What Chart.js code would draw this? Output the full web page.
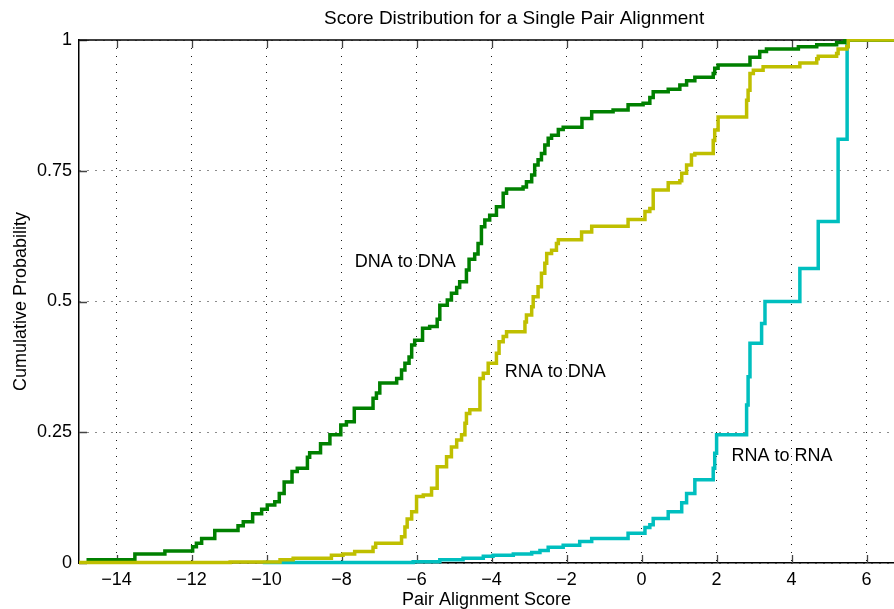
<!DOCTYPE html>
<html>
<head>
<meta charset="utf-8">
<title>Score Distribution for a Single Pair Alignment</title>
<script src="https://cdn.jsdelivr.net/npm/chart.js@4.4.1/dist/chart.umd.min.js"></script>
<style>
  html, body { margin: 0; padding: 0; background: #fff; }
  #chart { display: block; }
</style>
</head>
<body>
<canvas id="chart" width="894" height="609"></canvas>
<script>
// empirical CDFs of the pair alignment score, one stair per comparison
const dnaX = [-14.80, -13.51, -12.71, -11.97, -11.87, -11.73, -11.38, -10.76, -10.62, -10.37,
  -10.13, -9.98, -9.78, -9.66, -9.53, -9.32, -9.18, -8.91, -8.85, -8.56,
  -8.31, -8.02, -7.87, -7.66, -7.16, -7.07, -6.98, -6.53, -6.40, -6.31,
  -6.20, -6.13, -6.05, -5.84, -5.65, -5.45, -5.38, -5.18, -5.07, -4.93,
  -4.85, -4.67, -4.60, -4.45, -4.36, -4.27, -4.18, -4.05, -3.87, -3.69,
  -3.60, -3.16, -3.07, -2.93, -2.85, -2.76, -2.67, -2.58, -2.49, -2.40,
  -2.22, -2.09, -1.59, -1.33, -0.76, -0.36, 0.04, 0.22, 0.31, 0.71,
  1.02, 1.20, 1.42, 1.91, 1.95, 2.04, 2.89, 3.15, 3.33, 4.18,
  4.67, 5.20, 5.42, 6.80];
const dnaP = [0.006, 0.017, 0.023, 0.031, 0.038, 0.047, 0.062, 0.071, 0.079, 0.094,
  0.103, 0.111, 0.117, 0.133, 0.155, 0.175, 0.181, 0.202, 0.211, 0.228,
  0.245, 0.264, 0.270, 0.296, 0.315, 0.325, 0.344, 0.353, 0.369, 0.382,
  0.394, 0.417, 0.426, 0.449, 0.452, 0.466, 0.493, 0.503, 0.516, 0.527,
  0.538, 0.560, 0.581, 0.591, 0.611, 0.643, 0.656, 0.665, 0.681, 0.707,
  0.715, 0.719, 0.729, 0.742, 0.761, 0.771, 0.783, 0.799, 0.812, 0.818,
  0.829, 0.833, 0.850, 0.863, 0.866, 0.876, 0.879, 0.890, 0.901, 0.906,
  0.914, 0.922, 0.929, 0.936, 0.946, 0.952, 0.967, 0.978, 0.983, 0.987,
  0.991, 0.995, 1, 1];

const rnaDnaX = [-15.4, -10.97, -9.64, -9.29, -8.27, -7.96, -7.65, -7.16, -7.09, -6.40,
  -6.31, -6.25, -6.13, -6.00, -5.82, -5.60, -5.45, -5.20, -5.07, -4.93,
  -4.80, -4.71, -4.67, -4.58, -4.31, -4.22, -4.09, -3.87, -3.80, -3.69,
  -3.60, -3.11, -3.07, -2.93, -2.89, -2.76, -2.67, -2.58, -2.53, -2.40,
  -2.27, -2.22, -1.60, -1.33, -0.36, 0.09, 0.22, 0.31, 0.71, 1.02,
  1.07, 1.20, 1.33, 1.42, 1.91, 1.95, 2.04, 2.80, 2.84, 2.89,
  2.98, 3.24, 4.22, 4.67, 4.71, 5.20, 5.24, 5.47, 5.51, 6.80];
const rnaDnaP = [0.001, 0.002, 0.006, 0.009, 0.015, 0.017, 0.022, 0.030, 0.038, 0.050,
  0.069, 0.084, 0.098, 0.127, 0.130, 0.143, 0.184, 0.203, 0.222, 0.235,
  0.245, 0.267, 0.286, 0.293, 0.353, 0.363, 0.382, 0.401, 0.423, 0.433,
  0.442, 0.461, 0.474, 0.490, 0.509, 0.528, 0.554, 0.573, 0.592, 0.598,
  0.611, 0.618, 0.633, 0.644, 0.657, 0.672, 0.678, 0.713, 0.727, 0.731,
  0.745, 0.761, 0.780, 0.783, 0.808, 0.828, 0.853, 0.885, 0.904, 0.936,
  0.942, 0.949, 0.956, 0.964, 0.969, 0.974, 0.983, 0.987, 1, 1];

const rnaRnaX = [-10.1, -6.09, -5.38, -4.76, -4.22, -3.96, -3.42, -2.93, -2.71, -2.49,
  -2.09, -1.65, -1.33, -0.36, 0.09, 0.22, 0.31, 0.71, 1.07, 1.20,
  1.42, 1.91, 1.95, 2.00, 2.80, 2.84, 2.89, 3.20, 3.29, 4.22,
  4.71, 5.24, 5.48, 6.80];
const rnaRnaP = [0.001, 0.0025, 0.006, 0.009, 0.013, 0.015, 0.017, 0.020, 0.024, 0.030,
  0.034, 0.041, 0.047, 0.057, 0.068, 0.073, 0.085, 0.098, 0.115, 0.133,
  0.159, 0.181, 0.210, 0.245, 0.302, 0.356, 0.420, 0.458, 0.5, 0.563,
  0.653, 0.810, 1, 1];

const xTicks = [-14, -12, -10, -8, -6, -4, -2, 0, 2, 4, 6];
const yTicks = [0, 0.25, 0.5, 0.75, 1];

// curve labels, anchored at their left edge (score, probability)
const noteText = ['DNA to DNA', 'RNA to DNA', 'RNA to RNA'];
const noteX = [-7.65, -3.65, 2.40];
const noteY = [0.575, 0.365, 0.205];

const titleText = 'Score Distribution for a Single Pair Alignment';
// the axes run on past the right edge of the figure, so the title is
// centred over the full score range rather than the visible part
const titleCentre = -3.4;

const family = '"Liberation Sans", Arial, Helvetica, sans-serif';
const font = {family, size: 18, lineHeight: 1.2};

const toPoints = (xs, ps) => xs.map((x, i) => ({x, y: ps[i]}));
const minusSign = v => v < 0 ? '\u2212' + Math.abs(v) : String(v);

// inward tick marks, closed top edge, title and the text notes inside the axes
const matlabAxes = {
  id: 'matlabAxes',
  beforeDatasetsDraw(chart) {
    const {ctx, chartArea: {left, right, top, bottom}, scales: {x, y}} = chart;
    ctx.save();
    ctx.strokeStyle = '#444';
    ctx.lineWidth = 1.3;
    ctx.beginPath();
    xTicks.forEach(v => {
      const px = Math.round(x.getPixelForValue(v)) + 0.5;
      ctx.moveTo(px, bottom);
      ctx.lineTo(px, bottom - 8);
      ctx.moveTo(px, top);
      ctx.lineTo(px, top + 8);
    });
    yTicks.forEach(v => {
      const py = Math.round(y.getPixelForValue(v)) + 0.5;
      ctx.moveTo(left, py);
      ctx.lineTo(left + 8, py);
    });
    ctx.stroke();

    ctx.strokeStyle = '#000';
    ctx.lineWidth = 1.5;
    ctx.beginPath();
    ctx.moveTo(left, top);
    ctx.lineTo(right, top);
    ctx.stroke();

    ctx.font = '19px ' + family;
    ctx.fillStyle = '#000';
    ctx.textAlign = 'center';
    ctx.textBaseline = 'middle';
    ctx.fillText(titleText, x.getPixelForValue(titleCentre), top / 2 - 1);
    ctx.restore();
  },
  afterDatasetsDraw(chart) {
    const {ctx, scales: {x, y}} = chart;
    ctx.save();
    ctx.font = font.size + 'px ' + family;
    ctx.fillStyle = '#000';
    ctx.textAlign = 'left';
    ctx.textBaseline = 'middle';
    noteText.forEach((t, i) => {
      ctx.fillText(t, x.getPixelForValue(noteX[i]), y.getPixelForValue(noteY[i]));
    });
    ctx.restore();
  }
};

const stairs = (label, xs, ps, color, order) => ({
  label,
  data: toPoints(xs, ps),
  borderColor: color,
  backgroundColor: color,
  borderWidth: 3.5,
  stepped: true,
  pointRadius: 0,
  fill: false,
  order,
  clip: {left: 0, top: 1, right: 2, bottom: 2}
});

new Chart(document.getElementById('chart'), {
  type: 'line',
  data: {
    datasets: [
      stairs('DNA to DNA', dnaX, dnaP, 'rgb(0,128,0)', 1),
      stairs('RNA to DNA', rnaDnaX, rnaDnaP, 'rgb(191,191,0)', 0),
      stairs('RNA to RNA', rnaRnaX, rnaRnaP, 'rgb(0,191,191)', 2)
    ]
  },
  options: {
    responsive: false,
    animation: false,
    devicePixelRatio: 1,
    layout: {padding: {top: 40}},
    plugins: {
      legend: {display: false},
      tooltip: {enabled: false},
      title: {display: false}
    },
    scales: {
      x: {
        type: 'linear',
        min: -15,
        max: 6.73,
        afterBuildTicks: scale => { scale.ticks = xTicks.map(v => ({value: v})); },
        afterFit: scale => { scale.height = 46; },
        grid: {color: 'rgba(0,0,0,0.9)', lineWidth: 1, drawTicks: false},
        border: {color: '#000', width: 1.5, dash: [1, 7]},
        ticks: {
          color: '#000',
          font,
          padding: 6,
          autoSkip: false,
          maxRotation: 0,
          callback: v => minusSign(v)
        },
        title: {
          display: true,
          text: 'Pair Alignment Score',
          color: '#000',
          font,
          padding: {top: 0, bottom: -2}
        }
      },
      y: {
        min: 0,
        max: 1,
        afterBuildTicks: scale => { scale.ticks = yTicks.map(v => ({value: v})); },
        afterFit: scale => { scale.width = 79; },
        grid: {color: 'rgba(0,0,0,0.9)', lineWidth: 1, drawTicks: false},
        border: {color: '#000', width: 1.5, dash: [1, 7]},
        ticks: {
          color: '#000',
          font,
          padding: 7,
          callback: v => String(v)
        },
        title: {
          display: true,
          text: 'Cumulative Probability',
          color: '#000',
          font,
          padding: {top: 10, bottom: 0}
        }
      }
    }
  },
  plugins: [matlabAxes]
});
</script>
</body>
</html>
